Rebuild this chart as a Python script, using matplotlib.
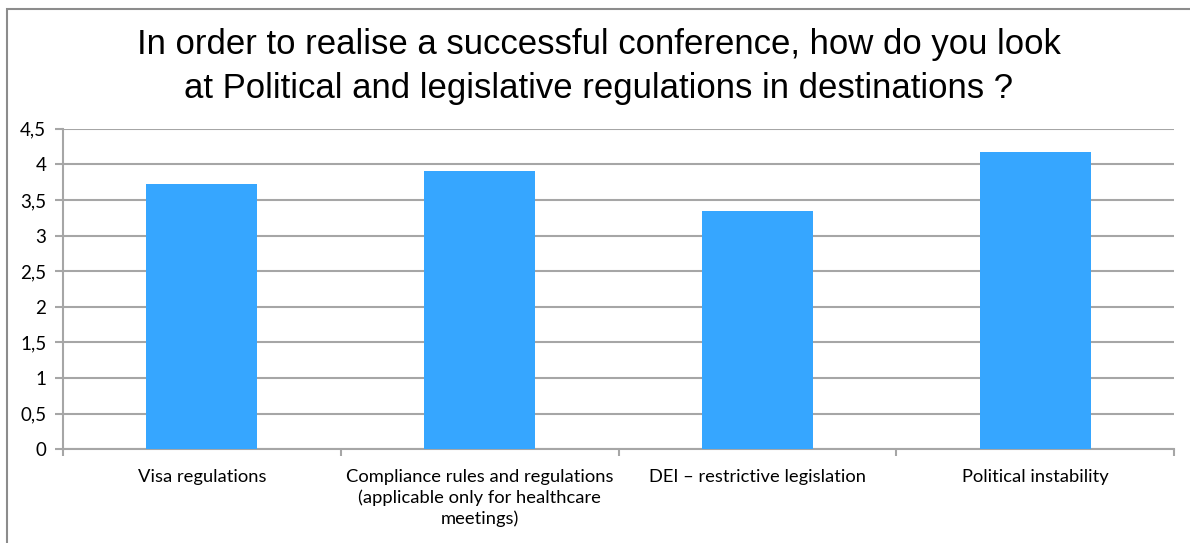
import matplotlib.pyplot as plt
from matplotlib.ticker import FixedLocator, FuncFormatter
from matplotlib.patches import Rectangle

categories = [
    "Visa regulations",
    "Compliance rules and regulations\n(applicable only for healthcare\nmeetings)",
    "DEI \u2013 restrictive legislation",
    "Political instability",
]
scores = [3.73, 3.91, 3.35, 4.17]
y_ticks = [0, 0.5, 1, 1.5, 2, 2.5, 3, 3.5, 4, 4.5]

title = ("In order to realise a successful conference, how do you look\n"
         "at Political and legislative regulations in destinations ?")

grid_col = "#a6a6a6"
bar_col = "#36a6ff"

fig = plt.figure(figsize=(11.9, 5.43), dpi=100)
ax = fig.add_axes([0.0529, 0.1726, 0.9337, 0.5904])

x = list(range(len(categories)))
ax.bar(x, scores, width=0.4, color=bar_col, zorder=3)

ax.set_xlim(-0.5, len(categories) - 0.5)
ax.set_ylim(0, 4.5)
ax.set_yticks(y_ticks)
ax.yaxis.set_major_formatter(FuncFormatter(lambda v, p: f"{v:g}".replace(".", ",")))
ax.yaxis.grid(True, color=grid_col, linewidth=1.5, zorder=0)

ax.set_xticks(x)
ax.set_xticklabels(categories, fontfamily="Lato", fontsize=13.2, linespacing=1.32)
ax.xaxis.set_minor_locator(FixedLocator([i + 0.5 for i in range(-1, len(categories))]))
ax.tick_params(axis="x", which="major", length=0, pad=14)
ax.tick_params(axis="x", which="minor", length=5, width=1.5, color=grid_col)
ax.tick_params(axis="y", length=6, width=1.5, color=grid_col, pad=6, labelsize=13.5)
for lbl in ax.get_yticklabels():
    lbl.set_fontfamily("Lato")

for side in ("top", "right"):
    ax.spines[side].set_visible(False)
for side in ("left", "bottom"):
    ax.spines[side].set_color(grid_col)
    ax.spines[side].set_linewidth(1.5)

fig.text(0.503, 0.877, title, ha="center", va="center", fontsize=25,
         fontfamily="Liberation Sans", linespacing=1.42)

# chart frame (runs off the right and bottom edges)
fig.patches.append(Rectangle((7 / 1190, -0.05), 1.1, 1 - 8.5 / 543 + 0.05,
                             transform=fig.transFigure, fill=False,
                             edgecolor="#8c8c8c", linewidth=1.5))

fig.savefig("out.png", dpi=100)
